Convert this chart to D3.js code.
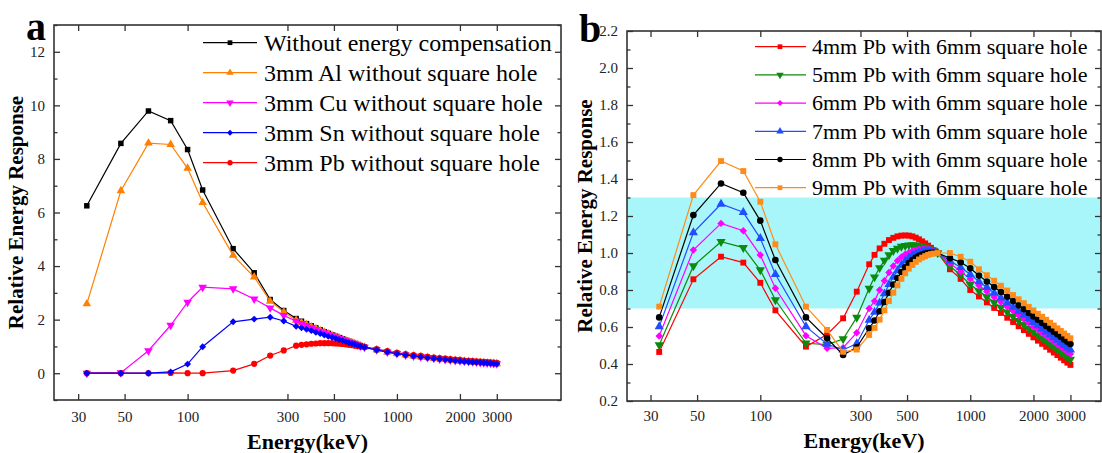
<!DOCTYPE html>
<html>
<head>
<meta charset="utf-8">
<script src="https://cdn.jsdelivr.net/npm/d3@7"></script>
<style>
  body { margin: 0; background: #fff; }
  svg { display: block; font-family: "Liberation Serif", "Times New Roman", serif; }
</style>
</head>
<body>
<svg id="chart" width="1102" height="453"></svg>
<script>
// Photon energies (keV) shared by every curve
const energies = [33, 48, 65, 83, 100, 118, 165, 208, 248, 288,
  330, 350, 370, 390, 410, 430, 450, 470, 490, 510, 530, 550, 570, 590, 610, 630, 650, 670,
  700, 800, 900, 1000, 1100, 1200, 1300, 1400, 1500, 1600, 1700, 1800, 1900, 2000,
  2100, 2200, 2300, 2400, 2500, 2600, 2700, 2800, 2900, 3000];

// (a) filters without square hole
const respNoComp = [6.25, 8.58, 9.79, 9.43, 8.35, 6.84, 4.65, 3.75, 2.75, 2.34,
  2.04, 1.94, 1.85, 1.77, 1.69, 1.62, 1.55, 1.49, 1.43, 1.38, 1.33, 1.28, 1.23, 1.19, 1.15, 1.11, 1.07, 1.03,
  0.98, 0.88, 0.80, 0.74, 0.69, 0.65, 0.62, 0.59, 0.56, 0.54, 0.52, 0.50, 0.48, 0.47, 0.45, 0.44, 0.43, 0.42, 0.41, 0.40, 0.39, 0.38, 0.37, 0.36];
const respAl3 = [2.59, 6.81, 8.59, 8.54, 7.65, 6.37, 4.40, 3.59, 2.69, 2.29,
  1.98, 1.89, 1.81, 1.73, 1.66, 1.59, 1.53, 1.47, 1.41, 1.36, 1.31, 1.26, 1.22, 1.18, 1.14, 1.10, 1.06, 1.02,
  0.975, 0.875, 0.795, 0.735, 0.685, 0.645, 0.615, 0.585, 0.555, 0.535, 0.515, 0.495, 0.475, 0.465, 0.445, 0.435, 0.425, 0.415, 0.405, 0.395, 0.385, 0.375, 0.365, 0.355];
const respCu3 = [0, 0.02, 0.84, 1.79, 2.65, 3.21, 3.15, 2.77, 2.44, 2.16,
  1.94, 1.86, 1.78, 1.70, 1.63, 1.57, 1.51, 1.45, 1.40, 1.35, 1.30, 1.25, 1.21, 1.17, 1.13, 1.09, 1.05, 1.01,
  0.97, 0.873, 0.793, 0.733, 0.683, 0.643, 0.613, 0.583, 0.553, 0.533, 0.513, 0.493, 0.473, 0.463, 0.443, 0.433, 0.423, 0.413, 0.403, 0.393, 0.383, 0.373, 0.363, 0.353];
const respSn3 = [0, 0, 0, 0.05, 0.34, 0.99, 1.92, 2.02, 2.09, 1.95,
  1.75, 1.70, 1.64, 1.59, 1.53, 1.48, 1.43, 1.38, 1.34, 1.30, 1.26, 1.22, 1.18, 1.14, 1.11, 1.08, 1.04, 1.01,
  0.965, 0.87, 0.79, 0.73, 0.68, 0.64, 0.61, 0.58, 0.55, 0.53, 0.51, 0.49, 0.47, 0.46, 0.44, 0.43, 0.42, 0.41, 0.40, 0.39, 0.38, 0.37, 0.36, 0.35];
const respPb3 = [0, 0, 0, 0.01, 0, 0, 0.10, 0.35, 0.66, 0.85,
  1.03, 1.06, 1.08, 1.10, 1.11, 1.12, 1.12, 1.12, 1.12, 1.11, 1.10, 1.09, 1.08, 1.06, 1.05, 1.03, 1.02, 1.00,
  0.98, 0.905, 0.825, 0.765, 0.715, 0.675, 0.645, 0.615, 0.585, 0.565, 0.545, 0.525, 0.505, 0.495, 0.475, 0.465, 0.455, 0.445, 0.435, 0.425, 0.415, 0.405, 0.395, 0.385];

// (b) Pb filters with 6mm square hole
const respPb4 = [0.465, 0.858, 0.98, 0.948, 0.839, 0.69, 0.494, 0.56, 0.647, 0.791,
  0.939, 0.99, 1.025, 1.05, 1.07, 1.082, 1.09, 1.094, 1.095, 1.094, 1.09, 1.083, 1.074, 1.063, 1.052, 1.04, 1.028, 1.015,
  1.0, 0.912, 0.86, 0.80, 0.765, 0.733, 0.703, 0.676, 0.650, 0.627, 0.604, 0.583, 0.563, 0.544, 0.526, 0.509, 0.493, 0.477, 0.462, 0.448, 0.434, 0.420, 0.407, 0.395];
const respPb5 = [0.503, 0.93, 1.061, 1.029, 0.908, 0.746, 0.512, 0.505, 0.535, 0.652,
  0.809, 0.87, 0.92, 0.96, 0.99, 1.012, 1.025, 1.035, 1.04, 1.043, 1.044, 1.043, 1.04, 1.035, 1.03, 1.024, 1.017, 1.01,
  1.0, 0.93, 0.88, 0.83, 0.795, 0.763, 0.733, 0.706, 0.680, 0.657, 0.634, 0.613, 0.593, 0.574, 0.556, 0.539, 0.523, 0.507, 0.492, 0.478, 0.464, 0.450, 0.437, 0.425];
const respPb6 = [0.551, 1.016, 1.16, 1.12, 0.989, 0.809, 0.553, 0.485, 0.488, 0.569,
  0.70, 0.74, 0.80, 0.85, 0.895, 0.93, 0.958, 0.978, 0.993, 1.003, 1.011, 1.017, 1.02, 1.022, 1.022, 1.02, 1.016, 1.01,
  1.0, 0.945, 0.90, 0.86, 0.824, 0.792, 0.762, 0.735, 0.709, 0.686, 0.663, 0.642, 0.622, 0.603, 0.585, 0.568, 0.552, 0.536, 0.521, 0.507, 0.493, 0.479, 0.466, 0.454];
const respPb7 = [0.602, 1.11, 1.265, 1.22, 1.079, 0.885, 0.602, 0.508, 0.476, 0.51,
  0.638, 0.68, 0.73, 0.78, 0.83, 0.87, 0.905, 0.935, 0.958, 0.975, 0.988, 0.997, 1.004, 1.008, 1.01, 1.01, 1.008, 1.005,
  1.0, 0.958, 0.922, 0.885, 0.846, 0.814, 0.784, 0.757, 0.731, 0.708, 0.685, 0.664, 0.644, 0.625, 0.607, 0.590, 0.574, 0.558, 0.543, 0.529, 0.515, 0.501, 0.488, 0.476];
const respPb8 = [0.652, 1.205, 1.376, 1.326, 1.175, 0.962, 0.652, 0.539, 0.449, 0.49,
  0.593, 0.635, 0.685, 0.735, 0.785, 0.83, 0.865, 0.897, 0.923, 0.945, 0.962, 0.975, 0.985, 0.992, 0.997, 1.0, 1.001, 1.001,
  1.0, 0.972, 0.95, 0.917, 0.878, 0.846, 0.816, 0.789, 0.763, 0.740, 0.717, 0.696, 0.676, 0.657, 0.639, 0.622, 0.606, 0.590, 0.575, 0.561, 0.547, 0.533, 0.520, 0.508];
const respPb9 = [0.71, 1.313, 1.497, 1.443, 1.277, 1.047, 0.71, 0.584, 0.466, 0.478,
  0.557, 0.595, 0.64, 0.69, 0.74, 0.785, 0.825, 0.86, 0.89, 0.915, 0.935, 0.952, 0.965, 0.975, 0.983, 0.99, 0.994, 0.997,
  1.0, 1.0, 0.98, 0.953, 0.912, 0.880, 0.850, 0.823, 0.797, 0.773, 0.750, 0.729, 0.709, 0.690, 0.672, 0.655, 0.639, 0.623, 0.608, 0.593, 0.579, 0.565, 0.552, 0.539];

// Tick labels
const energyTicks = [30, 50, 100, 300, 500, 1000, 2000, 3000];
const yTicksA = [0, 2, 4, 6, 8, 10, 12];
const yMinorA = [-1, 1, 3, 5, 7, 9, 11, 13];
const yTicksB = [0.2, 0.4, 0.6, 0.8, 1.0, 1.2, 1.4, 1.6, 1.8, 2.0, 2.2];
const yMinorB = [0.3, 0.5, 0.7, 0.9, 1.1, 1.3, 1.5, 1.7, 1.9, 2.1];
// Acceptance band of panel b
const bandRange = [0.7, 1.3];

const seriesA = [
  { name: "Without energy compensation", values: respNoComp, color: "#000000", shape: "square", z: 0 },
  { name: "3mm Al without square hole",  values: respAl3,    color: "#ff8000", shape: "triangle", z: 1 },
  { name: "3mm Cu without square hole",  values: respCu3,    color: "#ff00ff", shape: "triangleDown", z: 2 },
  { name: "3mm Sn without square hole",  values: respSn3,    color: "#0000ff", shape: "diamond", z: 4 },
  { name: "3mm Pb without square hole",  values: respPb3,    color: "#ff0000", shape: "circle", z: 3 }
];
const seriesB = [
  { name: "4mm Pb with 6mm square hole", values: respPb4, color: "#ff0000", shape: "square", z: 0 },
  { name: "5mm Pb with 6mm square hole", values: respPb5, color: "#0d8a0d", shape: "triangleDown", z: 1 },
  { name: "6mm Pb with 6mm square hole", values: respPb6, color: "#ff00ff", shape: "diamond", z: 2 },
  { name: "7mm Pb with 6mm square hole", values: respPb7, color: "#1f4dff", shape: "triangle", z: 3 },
  { name: "8mm Pb with 6mm square hole", values: respPb8, color: "#000000", shape: "circle", z: 4 },
  { name: "9mm Pb with 6mm square hole", values: respPb9, color: "#ff8c1a", shape: "square", z: 5 }
];

const svg = d3.select("#chart");
const AXIS = "#333333";
const SERIF = '"Liberation Serif", "Times New Roman", serif';

function symbolPath(shape, scale) {
  const s = scale || 1;
  switch (shape) {
    case "square": return { d: d3.symbol(d3.symbolSquare, 30 * s)(), rot: 0 };
    case "triangle": return { d: d3.symbol(d3.symbolTriangle, 32 * s)(), rot: 0 };
    case "triangleDown": return { d: d3.symbol(d3.symbolTriangle, 32 * s)(), rot: 180 };
    case "diamond": return { d: d3.symbol(d3.symbolSquare, 24 * s)(), rot: 45 };
    default: return { d: d3.symbol(d3.symbolCircle, 30 * s)(), rot: 0 };
  }
}

function drawPanel(cfg) {
  const { left, right, top, bottom } = cfg.box;
  const x = d3.scaleLog().domain(cfg.xDomain).range([left, right]);
  const y = d3.scaleLinear().domain(cfg.yDomain).range([bottom, top]);
  const g = svg.append("g").attr("font-family", SERIF);

  if (cfg.band) {
    g.append("rect")
      .attr("x", left).attr("width", right - left)
      .attr("y", y(cfg.band[1])).attr("height", y(cfg.band[0]) - y(cfg.band[1]))
      .attr("fill", "#a8f6f9");
  }

  const styleAxis = (sel) => {
    sel.attr("font-family", SERIF).attr("font-size", 15);
    sel.select(".domain").remove();
    sel.selectAll(".tick line").attr("stroke", AXIS).attr("stroke-width", 1.3);
    sel.selectAll(".tick text").attr("fill", "#222");
  };

  // bottom + top x axes (ticks point inward)
  g.append("g").attr("transform", `translate(0,${bottom})`)
    .call(d3.axisBottom(x).tickValues(energyTicks).tickFormat(d3.format("d")).tickSize(-6).tickPadding(cfg.xPad))
    .call(styleAxis);
  g.append("g").attr("transform", `translate(0,${top})`)
    .call(d3.axisTop(x).tickValues(energyTicks).tickFormat("").tickSize(-6))
    .call(styleAxis);

  // left + right y axes, major and minor
  g.append("g").attr("transform", `translate(${left},0)`)
    .call(d3.axisLeft(y).tickValues(cfg.yTicks).tickFormat(cfg.yFormat).tickSize(-6).tickPadding(9))
    .call(styleAxis);
  g.append("g").attr("transform", `translate(${left},0)`)
    .call(d3.axisLeft(y).tickValues(cfg.yMinor).tickFormat("").tickSize(-3.5))
    .call(styleAxis);
  g.append("g").attr("transform", `translate(${right},0)`)
    .call(d3.axisRight(y).tickValues(cfg.yTicks).tickFormat("").tickSize(-6))
    .call(styleAxis);
  g.append("g").attr("transform", `translate(${right},0)`)
    .call(d3.axisRight(y).tickValues(cfg.yMinor).tickFormat("").tickSize(-3.5))
    .call(styleAxis);

  // series lines and markers
  const line = d3.line().x(d => x(d[0])).y(d => y(d[1]));
  const ordered = cfg.series.slice().sort((a, b) => a.z - b.z);
  ordered.forEach(s => {
    const pts = energies.map((e, i) => [e, s.values[i]]);
    g.append("path").datum(pts).attr("d", line)
      .attr("fill", "none").attr("stroke", s.color).attr("stroke-width", 1.2);
    const sym = symbolPath(s.shape, cfg.markerScale);
    g.append("g").selectAll("path").data(pts).join("path")
      .attr("d", sym.d)
      .attr("transform", d => `translate(${x(d[0])},${y(d[1])}) rotate(${sym.rot})`)
      .attr("fill", s.color);
  });

  // frame
  g.append("rect").attr("x", left).attr("y", top)
    .attr("width", right - left).attr("height", bottom - top)
    .attr("fill", "none").attr("stroke", AXIS).attr("stroke-width", 1.6);

  // legend
  const L = cfg.legend;
  cfg.series.forEach((s, i) => {
    const ry = L.y0 + i * L.step;
    g.append("line").attr("x1", L.x1).attr("x2", L.x2).attr("y1", ry).attr("y2", ry)
      .attr("stroke", s.color).attr("stroke-width", 1.2);
    const sym = symbolPath(s.shape, 0.75);
    g.append("path").attr("d", sym.d)
      .attr("transform", `translate(${L.xm},${ry}) rotate(${sym.rot})`)
      .attr("fill", s.color);
    g.append("text").attr("x", L.xt).attr("y", ry + L.base)
      .attr("font-family", SERIF).attr("font-size", L.fs).attr("fill", "#000").text(s.name);
  });

  // axis titles and panel letter
  g.append("text")
    .attr("transform", `translate(${cfg.yTitleX},${(top + bottom) / 2}) rotate(-90)`)
    .attr("text-anchor", "middle").attr("font-family", SERIF)
    .attr("font-size", 21).attr("font-weight", "bold")
    .text("Relative Energy Response");
  g.append("text")
    .attr("x", (left + right) / 2).attr("y", cfg.xTitleY)
    .attr("text-anchor", "middle").attr("font-family", SERIF)
    .attr("font-size", 22).attr("font-weight", "bold")
    .text("Energy(keV)");
  g.append("text")
    .attr("x", cfg.letter.x).attr("y", cfg.letter.y)
    .attr("font-family", SERIF).attr("font-size", 40).attr("font-weight", "bold")
    .text(cfg.letter.t);
}

drawPanel({
  box: { left: 54, right: 561, top: 25, bottom: 400 },
  xDomain: [23, 6080], yDomain: [-1, 13],
  yTicks: yTicksA, yMinor: yMinorA, yFormat: d3.format("d"),
  xPad: 11, markerScale: 1,
  series: seriesA,
  legend: { x1: 203, x2: 257, xm: 230, xt: 264, y0: 42.7, step: 30, fs: 24, base: 7.8 },
  yTitleX: 23, xTitleY: 449,
  letter: { x: 26, y: 40, t: "a" }
});

drawPanel({
  box: { left: 627, right: 1101, top: 31, bottom: 401 },
  xDomain: [23.18, 4195], yDomain: [0.2, 2.2],
  yTicks: yTicksB, yMinor: yMinorB, yFormat: d3.format(".1f"),
  xPad: 9, markerScale: 1.15,
  band: bandRange,
  series: seriesB,
  legend: { x1: 755, x2: 806, xm: 780, xt: 812, y0: 46.7, step: 28.2, fs: 22, base: 7.2 },
  yTitleX: 592, xTitleY: 448,
  letter: { x: 579, y: 42, t: "b" }
});
</script>
</body>
</html>
